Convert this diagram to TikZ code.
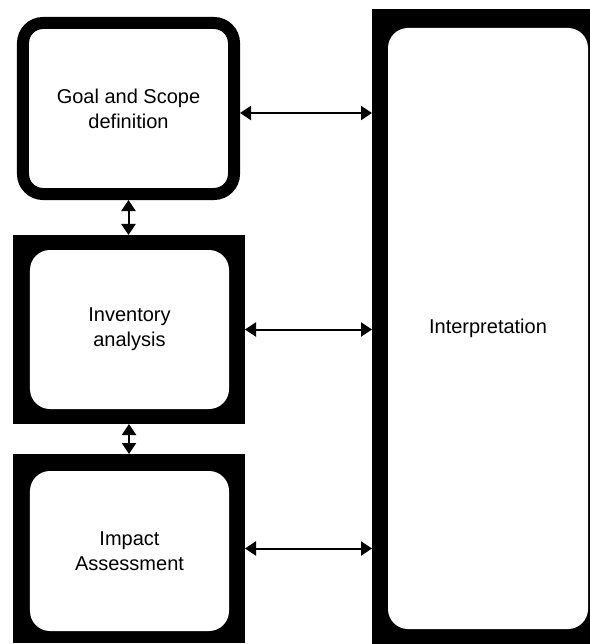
\documentclass[tikz,border=0pt]{standalone}
\usepackage{fontspec}
\setmainfont{Liberation Sans}
\usetikzlibrary{arrows.meta}

\begin{document}
\begin{tikzpicture}[x=1bp,y=-1bp,
  frame/.style={fill=black,inner sep=0pt,outer sep=0pt},
  stage/.style={fill=white,rounded corners=20bp,inner sep=0pt,outer sep=0pt,align=center,font=\fontsize{20bp}{25bp}\selectfont},
  link/.style={{Triangle[length=11bp,width=14bp]}-{Triangle[length=11bp,width=14bp]},line width=2bp}]
\useasboundingbox (0,0) rectangle (590,644);
\clip (0,0) rectangle (590,644);
\node[frame,minimum width=232bp,minimum height=636bp] (interpframe) at (488,327) {};
\node[stage,minimum width=200bp,minimum height=601bp] (interp) at (488,328.5) {Interpretation};
\node[stage,draw=black,line width=12bp,minimum width=211bp,minimum height=171bp,outer sep=6bp] (goal) at (128.5,108.5) {Goal and Scope\\definition};
\node[frame,minimum width=232bp,minimum height=189bp] (invframe) at (129,329.5) {};
\node[stage,minimum width=199bp,minimum height=159bp] (inv) at (129.5,329.5) {Inventory\\analysis};
\node[frame,minimum width=232bp,minimum height=189bp] (impframe) at (129,548.5) {};
\node[stage,minimum width=199bp,minimum height=160bp] (imp) at (129.5,551) {Impact\\Assessment};
\coordinate (g) at ([yshift=-4.5bp]goal.east);
\draw[link] (g) -- (g -| interpframe.west);
\draw[link] (invframe.east) -- (invframe.east -| interpframe.west);
\draw[link] (impframe.east) -- (impframe.east -| interpframe.west);
\draw[link] (goal.south) -- (goal.south |- invframe.north);
\draw[link] (invframe.south) -- (invframe.south |- impframe.north);
\end{tikzpicture}
\end{document}
